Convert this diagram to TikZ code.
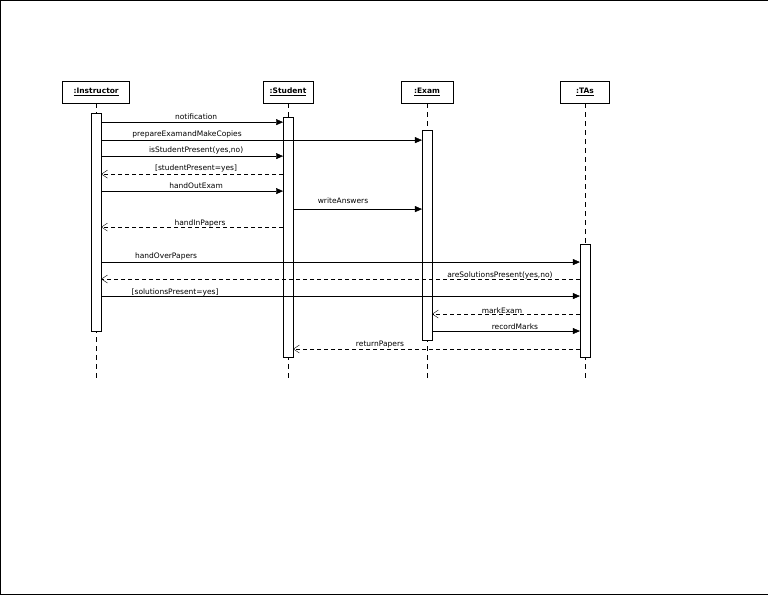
\documentclass[tikz,border=0pt]{standalone}
\usepackage{fontspec}
\setmainfont{DejaVu Sans}
\usetikzlibrary{arrows.meta}
\begin{document}
\begin{tikzpicture}[x=1pt,y=-1pt,
  head/.style={draw,fill=white,minimum height=22pt,inner sep=2pt,font=\fontsize{7.5}{9}\selectfont\bfseries},
  life/.style={dashed,dash pattern=on 5pt off 4pt},
  act/.style={draw,fill=white},
  msg/.style={-{Triangle[length=7pt,width=6pt]}},
  ret/.style={dashed,dash pattern=on 4pt off 3pt,-{Straight Barb[length=6pt,width=8pt]}},
  lbl/.style={font=\fontsize{7.5}{9}\selectfont,inner sep=1pt}]
\draw (0,0) rectangle (768,594);
\node[head,minimum width=67pt] (hi) at (96,92) {\underline{:Instructor}};
\node[head,minimum width=50pt] (hs) at (288,92) {\underline{:Student}};
\node[head,minimum width=52pt] (he) at (427,92) {\underline{:Exam}};
\node[head,minimum width=49pt] (ht) at (585,92) {\underline{:TAs}};
\coordinate (ei) at (96,380); \coordinate (es) at (288,380);
\coordinate (ee) at (427,380); \coordinate (et) at (585,380);
\draw[life] (hi) -- (ei); \draw[life] (hs) -- (es);
\draw[life] (he) -- (ee); \draw[life] (ht) -- (et);
\draw[act] (91,113) rectangle (101,331);
\draw[act] (283,117) rectangle (293,357);
\draw[act] (422,130) rectangle (432,340);
\draw[act] (580,244) rectangle (590,357);
\draw[msg] (101,122) -- (283,122);
\node[lbl,anchor=south] at (196,121) {notification};
\draw[msg] (101,140) -- (422,140);
\node[lbl,anchor=south] at (187,139) {prepareExamandMakeCopies};
\draw[msg] (101,156) -- (283,156);
\node[lbl,anchor=south] at (196,155) {isStudentPresent(yes,no)};
\draw[ret] (283,174) -- (101,174);
\node[lbl,anchor=south] at (196,173) {[studentPresent=yes]};
\draw[msg] (101,191) -- (283,191);
\node[lbl,anchor=south] at (196,190) {handOutExam};
\draw[msg] (293,209) -- (422,209);
\node[lbl,anchor=south] at (343,205) {writeAnswers};
\draw[ret] (283,227) -- (101,227);
\node[lbl,anchor=south] at (200,228) {handInPapers};
\draw[msg] (101,262) -- (580,262);
\node[lbl,anchor=south] at (166,261) {handOverPapers};
\draw[ret] (580,279) -- (101,279);
\node[lbl,anchor=south] at (500,280) {areSolutionsPresent(yes,no)};
\draw[msg] (101,296) -- (580,296);
\node[lbl,anchor=south] at (175,297) {[solutionsPresent=yes]};
\draw[ret] (580,314) -- (432,314);
\node[lbl,anchor=south] at (502,315) {markExam};
\draw[msg] (432,331) -- (580,331);
\node[lbl,anchor=south] at (515,331) {recordMarks};
\draw[ret] (580,349) -- (293,349);
\node[lbl,anchor=south] at (380,349) {returnPapers};
\end{tikzpicture}
\end{document}
